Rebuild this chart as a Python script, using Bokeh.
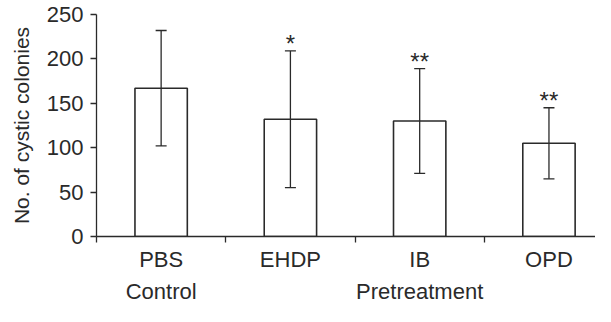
from bokeh.plotting import figure
from bokeh.models import (ColumnDataSource, Range1d, LinearAxis, FixedTicker,
                          Whisker, TeeHead)
from bokeh.core.properties import value
from bokeh.embed import file_html
from bokeh.resources import INLINE

# ---- data ----
categories = ["PBS", "EHDP", "IB", "OPD"]
groups = ["Control", "Pretreatment", "Pretreatment", "Pretreatment"]
means = [167, 132, 130, 105]
errors = [65, 77, 59, 40]
significance = ["", "*", "**", "**"]
y_ticks = [0, 50, 100, 150, 200, 250]

FONT = "Liberation Sans"
DARK = "#2a2a2a"

x = [i + 0.5 for i in range(len(categories))]
upper = [m + e for m, e in zip(means, errors)]
lower = [m - e for m, e in zip(means, errors)]
src = ColumnDataSource(dict(x=x, top=means, upper=upper, lower=lower,
                            sig=significance))

p = figure(width=595, height=306, output_backend="svg", toolbar_location=None,
           x_range=Range1d(0, 3.86), y_range=Range1d(0, 250),
           min_border_left=96, min_border_top=14, min_border_right=0,
           min_border_bottom=10)
p.outline_line_color = None
p.xgrid.visible = False
p.ygrid.visible = False
p.background_fill_color = "white"
p.border_fill_color = "white"

p.vbar(x="x", top="top", width=0.405, bottom=0, source=src,
       fill_color="white", line_color=DARK, line_width=1.6)

w = Whisker(base="x", upper="upper", lower="lower", source=src,
            line_color=DARK, line_width=1.3, level="overlay",
            upper_head=TeeHead(size=11, line_color=DARK, line_width=1.3),
            lower_head=TeeHead(size=11, line_color=DARK, line_width=1.3))
p.add_layout(w)

p.text(x="x", y="upper", text="sig", source=src, text_align="center",
       text_baseline="alphabetic", y_offset=-7, text_font=value(FONT),
       text_font_size="24px", text_color=DARK)

# y axis
ya = p.yaxis[0]
ya.ticker = FixedTicker(ticks=y_ticks)
ya.axis_label = "No. of cystic colonies"
ya.axis_label_text_font = FONT
ya.axis_label_text_font_style = "normal"
ya.axis_label_text_font_size = "21px"
ya.axis_label_text_color = DARK
ya.axis_label_standoff = 11
ya.major_label_text_font = FONT
ya.major_label_text_font_size = "22px"
ya.major_label_text_color = DARK
ya.major_label_standoff = 7
ya.major_tick_out = 6
ya.major_tick_in = 0
ya.minor_tick_out = 0
ya.minor_tick_in = 0
ya.axis_line_color = DARK
ya.axis_line_width = 1.3
ya.major_tick_line_color = DARK
ya.major_tick_line_width = 1.3

# x axis: category labels at centres, tick marks at boundaries
xa = p.xaxis[0]
xa.ticker = FixedTicker(ticks=x, minor_ticks=list(range(len(categories) + 1)))
xa.major_label_overrides = {xv: c for xv, c in zip(x, categories)}
xa.major_label_text_font = FONT
xa.major_label_text_font_size = "22px"
xa.major_label_text_color = DARK
xa.major_label_standoff = 4
xa.major_tick_out = 0
xa.major_tick_in = 0
xa.minor_tick_out = 6
xa.minor_tick_in = 0
xa.axis_line_color = DARK
xa.axis_line_width = 1.3
xa.minor_tick_line_color = DARK
xa.minor_tick_line_width = 1.3

# group axis
group_names = []
for g in groups:
    if g not in group_names:
        group_names.append(g)
group_pos = {}
for g in group_names:
    idx = [i for i, gg in enumerate(groups) if gg == g]
    group_pos[sum(idx) / len(idx) + 0.5] = g
ga = LinearAxis(ticker=FixedTicker(ticks=list(group_pos.keys())),
                major_label_overrides=group_pos)
ga.major_label_text_font = FONT
ga.major_label_text_font_size = "22px"
ga.major_label_text_color = DARK
ga.major_label_standoff = 4
ga.major_tick_out = 0
ga.major_tick_in = 0
ga.minor_tick_out = 0
ga.minor_tick_in = 0
ga.axis_line_color = None
ga.major_tick_line_color = None
ga.minor_tick_line_color = None
p.add_layout(ga, "below")

open("out.html", "w").write(file_html(p, INLINE))
